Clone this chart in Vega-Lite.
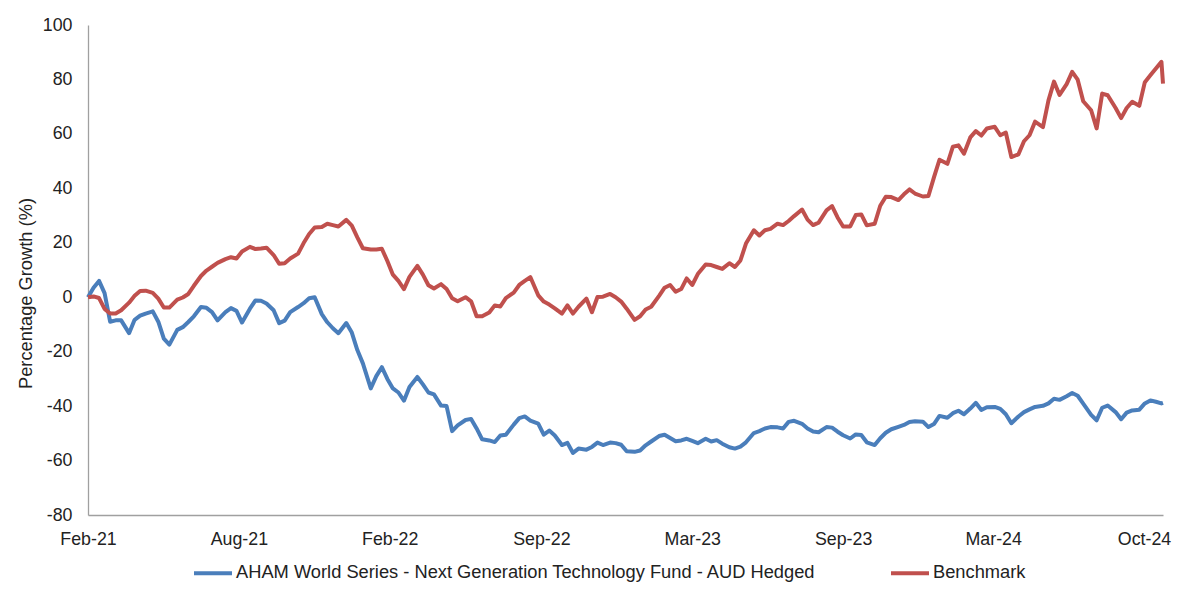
{
  "$schema": "https://vega.github.io/schema/vega-lite/v6.json",
  "width": 1075,
  "height": 490,
  "autosize": {"type": "none"},
  "padding": {"left": 88, "top": 25, "right": 35, "bottom": 80},
  "background": "white",
  "config": {"view": {"stroke": null}, "font": "Liberation Sans"},
  "data": {"values": [
    {"d":"2021-02-08","f":0,"b":0},
    {"d":"2021-02-15","f":3.5,"b":0.3},
    {"d":"2021-02-22","f":6,"b":-0.3},
    {"d":"2021-03-01","f":1.5,"b":-4.3},
    {"d":"2021-03-08","f":-9,"b":-6},
    {"d":"2021-03-15","f":-8.5,"b":-6},
    {"d":"2021-03-22","f":-8.5,"b":-4.8},
    {"d":"2021-04-01","f":-13.2,"b":-2},
    {"d":"2021-04-08","f":-8.3,"b":0.5},
    {"d":"2021-04-15","f":-6.8,"b":2.3},
    {"d":"2021-04-22","f":-6,"b":2.4},
    {"d":"2021-05-01","f":-5.2,"b":1.6},
    {"d":"2021-05-08","f":-9,"b":-0.5},
    {"d":"2021-05-15","f":-15.2,"b":-3.8},
    {"d":"2021-05-22","f":-17.4,"b":-3.8},
    {"d":"2021-06-01","f":-12,"b":-0.9},
    {"d":"2021-06-08","f":-11,"b":-0.1},
    {"d":"2021-06-15","f":-9.1,"b":1.2},
    {"d":"2021-06-22","f":-7,"b":4.2},
    {"d":"2021-07-01","f":-3.6,"b":7.8},
    {"d":"2021-07-08","f":-3.9,"b":9.8},
    {"d":"2021-07-15","f":-5.5,"b":11.2},
    {"d":"2021-07-22","f":-8.5,"b":12.6},
    {"d":"2021-08-01","f":-5.5,"b":14},
    {"d":"2021-08-08","f":-4,"b":14.7},
    {"d":"2021-08-15","f":-5,"b":14.2},
    {"d":"2021-08-22","f":-9.3,"b":16.8},
    {"d":"2021-09-01","f":-4.2,"b":18.5},
    {"d":"2021-09-08","f":-1.2,"b":17.7},
    {"d":"2021-09-15","f":-1.3,"b":17.9},
    {"d":"2021-09-22","f":-2.3,"b":18.2},
    {"d":"2021-10-01","f":-4.8,"b":15.5},
    {"d":"2021-10-08","f":-9.5,"b":12.3},
    {"d":"2021-10-15","f":-8.6,"b":12.5},
    {"d":"2021-10-22","f":-5.5,"b":14.2},
    {"d":"2021-11-01","f":-3.6,"b":16},
    {"d":"2021-11-08","f":-2.2,"b":19.9},
    {"d":"2021-11-15","f":-0.4,"b":23.2},
    {"d":"2021-11-22","f":0,"b":25.6},
    {"d":"2021-12-01","f":-6.2,"b":25.8},
    {"d":"2021-12-08","f":-9.2,"b":27},
    {"d":"2021-12-15","f":-11.4,"b":26.5},
    {"d":"2021-12-22","f":-13.2,"b":26},
    {"d":"2022-01-01","f":-9.5,"b":28.4},
    {"d":"2022-01-08","f":-13,"b":26.3},
    {"d":"2022-01-15","f":-19.4,"b":22},
    {"d":"2022-01-22","f":-24.3,"b":18},
    {"d":"2022-02-01","f":-33.5,"b":17.5},
    {"d":"2022-02-08","f":-29,"b":17.5},
    {"d":"2022-02-15","f":-25.7,"b":17.8},
    {"d":"2022-02-22","f":-30,"b":13.3},
    {"d":"2022-03-01","f":-33.5,"b":8.3},
    {"d":"2022-03-08","f":-35,"b":6},
    {"d":"2022-03-15","f":-38,"b":3},
    {"d":"2022-03-22","f":-33,"b":7.5},
    {"d":"2022-04-01","f":-29.3,"b":11.5},
    {"d":"2022-04-08","f":-32,"b":8.3},
    {"d":"2022-04-15","f":-35,"b":4.4},
    {"d":"2022-04-22","f":-35.7,"b":3.2},
    {"d":"2022-05-01","f":-39.8,"b":4.8},
    {"d":"2022-05-08","f":-40,"b":3},
    {"d":"2022-05-15","f":-49.2,"b":-0.4},
    {"d":"2022-05-22","f":-47.1,"b":-1.5},
    {"d":"2022-06-01","f":-45.1,"b":0},
    {"d":"2022-06-08","f":-44.7,"b":-1.5},
    {"d":"2022-06-15","f":-48.2,"b":-7},
    {"d":"2022-06-22","f":-52.2,"b":-7},
    {"d":"2022-07-01","f":-52.6,"b":-5.6},
    {"d":"2022-07-08","f":-53.2,"b":-3},
    {"d":"2022-07-15","f":-50.8,"b":-3.4},
    {"d":"2022-07-22","f":-50.5,"b":-0.3},
    {"d":"2022-08-01","f":-46.8,"b":1.7},
    {"d":"2022-08-08","f":-44.4,"b":4.5},
    {"d":"2022-08-15","f":-43.8,"b":6},
    {"d":"2022-08-22","f":-45.3,"b":7.4},
    {"d":"2022-09-01","f":-46.4,"b":0.7},
    {"d":"2022-09-08","f":-50.5,"b":-1.6},
    {"d":"2022-09-15","f":-49,"b":-2.7},
    {"d":"2022-09-22","f":-50.8,"b":-4.1},
    {"d":"2022-10-01","f":-54.3,"b":-6},
    {"d":"2022-10-08","f":-53.5,"b":-3},
    {"d":"2022-10-15","f":-57.2,"b":-6},
    {"d":"2022-10-22","f":-55.6,"b":-3.5},
    {"d":"2022-11-01","f":-56,"b":-0.5},
    {"d":"2022-11-08","f":-55,"b":-5.5},
    {"d":"2022-11-15","f":-53.4,"b":0.1},
    {"d":"2022-11-22","f":-54.3,"b":0.2},
    {"d":"2022-12-01","f":-53.4,"b":1.2},
    {"d":"2022-12-08","f":-53.6,"b":0},
    {"d":"2022-12-15","f":-54.2,"b":-1.6},
    {"d":"2022-12-22","f":-56.6,"b":-4.2},
    {"d":"2023-01-01","f":-56.8,"b":-8.3},
    {"d":"2023-01-08","f":-56.3,"b":-7},
    {"d":"2023-01-15","f":-54.4,"b":-4.5},
    {"d":"2023-01-22","f":-53,"b":-3.5},
    {"d":"2023-02-01","f":-51,"b":0.5},
    {"d":"2023-02-08","f":-50.5,"b":3.5},
    {"d":"2023-02-15","f":-51.7,"b":4.5},
    {"d":"2023-02-22","f":-52.9,"b":2},
    {"d":"2023-03-01","f":-52.6,"b":3},
    {"d":"2023-03-08","f":-52,"b":6.9},
    {"d":"2023-03-15","f":-52.8,"b":4.5},
    {"d":"2023-03-22","f":-53.6,"b":8.5},
    {"d":"2023-04-01","f":-52,"b":12},
    {"d":"2023-04-08","f":-53,"b":11.8},
    {"d":"2023-04-15","f":-52.5,"b":11.1},
    {"d":"2023-04-22","f":-53.8,"b":10.4},
    {"d":"2023-05-01","f":-55.1,"b":12.5},
    {"d":"2023-05-08","f":-55.6,"b":11.1},
    {"d":"2023-05-15","f":-54.9,"b":13.5},
    {"d":"2023-05-22","f":-53.3,"b":19.7},
    {"d":"2023-06-01","f":-49.9,"b":24.6},
    {"d":"2023-06-08","f":-49.2,"b":22.7},
    {"d":"2023-06-15","f":-48.2,"b":24.6},
    {"d":"2023-06-22","f":-47.7,"b":25.1},
    {"d":"2023-07-01","f":-47.8,"b":27},
    {"d":"2023-07-08","f":-48.2,"b":26.5},
    {"d":"2023-07-15","f":-45.8,"b":28},
    {"d":"2023-07-22","f":-45.4,"b":29.8},
    {"d":"2023-08-01","f":-46.5,"b":32.2},
    {"d":"2023-08-08","f":-48.2,"b":28.5},
    {"d":"2023-08-15","f":-49.3,"b":26.5},
    {"d":"2023-08-22","f":-49.6,"b":27.4},
    {"d":"2023-09-01","f":-47.7,"b":31.9},
    {"d":"2023-09-08","f":-47.9,"b":33.5},
    {"d":"2023-09-15","f":-49.4,"b":29.3},
    {"d":"2023-09-22","f":-50.7,"b":26},
    {"d":"2023-10-01","f":-51.9,"b":26},
    {"d":"2023-10-08","f":-50.4,"b":30.2},
    {"d":"2023-10-15","f":-50.6,"b":30.4},
    {"d":"2023-10-22","f":-53.3,"b":26.4},
    {"d":"2023-11-01","f":-54.3,"b":27},
    {"d":"2023-11-08","f":-51.8,"b":33.6},
    {"d":"2023-11-15","f":-49.8,"b":36.9},
    {"d":"2023-11-22","f":-48.5,"b":36.8},
    {"d":"2023-12-01","f":-47.6,"b":35.7},
    {"d":"2023-12-08","f":-46.9,"b":37.8},
    {"d":"2023-12-15","f":-45.8,"b":39.6},
    {"d":"2023-12-22","f":-45.6,"b":38.1},
    {"d":"2024-01-01","f":-45.7,"b":37},
    {"d":"2024-01-08","f":-47.7,"b":37.2},
    {"d":"2024-01-15","f":-46.6,"b":44},
    {"d":"2024-01-22","f":-43.6,"b":50.5},
    {"d":"2024-02-01","f":-44.3,"b":49},
    {"d":"2024-02-08","f":-42.6,"b":55.3},
    {"d":"2024-02-15","f":-41.7,"b":55.8},
    {"d":"2024-02-22","f":-43,"b":52.7},
    {"d":"2024-03-01","f":-40.9,"b":58.7},
    {"d":"2024-03-08","f":-38.8,"b":61},
    {"d":"2024-03-15","f":-41.4,"b":59.4},
    {"d":"2024-03-22","f":-40.4,"b":62},
    {"d":"2024-04-01","f":-40.3,"b":62.6},
    {"d":"2024-04-08","f":-41,"b":59.5},
    {"d":"2024-04-15","f":-43,"b":60.5},
    {"d":"2024-04-22","f":-46.3,"b":51.5},
    {"d":"2024-05-01","f":-43.8,"b":52.5},
    {"d":"2024-05-08","f":-42.2,"b":57.3},
    {"d":"2024-05-15","f":-41.2,"b":59.5},
    {"d":"2024-05-22","f":-40.3,"b":64.5},
    {"d":"2024-06-01","f":-39.9,"b":62.5},
    {"d":"2024-06-08","f":-39,"b":72.3},
    {"d":"2024-06-15","f":-37.3,"b":79.2},
    {"d":"2024-06-22","f":-37.7,"b":74.3},
    {"d":"2024-07-01","f":-36.4,"b":78.3},
    {"d":"2024-07-08","f":-35.2,"b":82.8},
    {"d":"2024-07-15","f":-36.2,"b":79.9},
    {"d":"2024-07-22","f":-39.1,"b":72},
    {"d":"2024-08-01","f":-43.2,"b":68.7},
    {"d":"2024-08-08","f":-45.2,"b":62},
    {"d":"2024-08-15","f":-40.6,"b":74.8},
    {"d":"2024-08-22","f":-39.8,"b":74.2},
    {"d":"2024-09-01","f":-42.2,"b":69.5},
    {"d":"2024-09-08","f":-44.8,"b":65.8},
    {"d":"2024-09-15","f":-42.4,"b":69.5},
    {"d":"2024-09-22","f":-41.6,"b":71.8},
    {"d":"2024-10-01","f":-41.3,"b":70.3},
    {"d":"2024-10-08","f":-39,"b":79},
    {"d":"2024-10-15","f":-37.9,"b":81.5},
    {"d":"2024-10-22","f":-38.4,"b":84},
    {"d":"2024-10-29","f":-39,"b":86.5},
    {"d":"2024-10-31","f":-38.8,"b":78.5}
  ]},
  "transform": [{"fold": ["f", "b"], "as": ["series", "value"]}],
  "mark": {"type": "line", "strokeWidth": 4, "strokeJoin": "round"},
  "encoding": {
    "x": {
      "field": "d", "type": "temporal",
      "scale": {"domain": [{"year": 2021, "month": 2, "date": 8}, {"year": 2024, "month": 10, "date": 31}]},
      "axis": {
        "values": [
          {"year": 2021, "month": 2, "date": 8},
          {"year": 2021, "month": 8, "date": 18},
          {"year": 2022, "month": 2, "date": 25},
          {"year": 2022, "month": 9, "date": 5},
          {"year": 2023, "month": 3, "date": 15},
          {"year": 2023, "month": 9, "date": 22},
          {"year": 2024, "month": 3, "date": 30},
          {"year": 2024, "month": 10, "date": 7}
        ],
        "format": "%b-%y",
        "title": null,
        "grid": false,
        "ticks": false,
        "tickSize": 0,
        "labelPadding": 15,
        "labelFont": "Liberation Sans",
        "labelFontSize": 17.8,
        "labelColor": "#222222",
        "labelOverlap": false,
        "labelFlush": false,
        "domainColor": "#a0a0a0",
        "domainWidth": 1.6
      }
    },
    "y": {
      "field": "value", "type": "quantitative",
      "scale": {"domain": [-80, 100], "nice": false, "zero": false},
      "axis": {
        "values": [-80, -60, -40, -20, 0, 20, 40, 60, 80, 100],
        "labelExpr": "toString(datum.value)",
        "grid": false,
        "ticks": false,
        "tickSize": 0,
        "labelPadding": 16,
        "labelFont": "Liberation Sans",
        "labelFontSize": 17.8,
        "labelColor": "#222222",
        "domainColor": "#a0a0a0",
        "domainWidth": 1.3,
        "title": "Percentage Growth (%)",
        "titleFont": "Liberation Sans",
        "titleFontSize": 18.3,
        "titleFontWeight": "normal",
        "titleColor": "#222222",
        "titleAngle": 270,
        "titleX": -57,
        "titleY": 268,
        "titleAlign": "center",
        "titleBaseline": "alphabetic"
      }
    },
    "color": {
      "field": "series", "type": "nominal",
      "scale": {"domain": ["f", "b"], "range": ["#4A7EBB", "#C0504D"]},
      "legend": {
        "orient": "none",
        "legendX": 104,
        "legendY": 527,
        "direction": "horizontal",
        "title": null,
        "symbolType": "stroke",
        "symbolSize": 1444,
        "symbolStrokeWidth": 4,
        "labelFont": "Liberation Sans",
        "labelFontSize": 18.3,
        "labelColor": "#222222",
        "labelOffset": 2,
        "labelLimit": 0,
        "columnPadding": 67,
        "labelExpr": "datum.label == 'f' ? 'AHAM World Series - Next Generation Technology Fund - AUD Hedged' : 'Benchmark'"
      }
    }
  }
}
